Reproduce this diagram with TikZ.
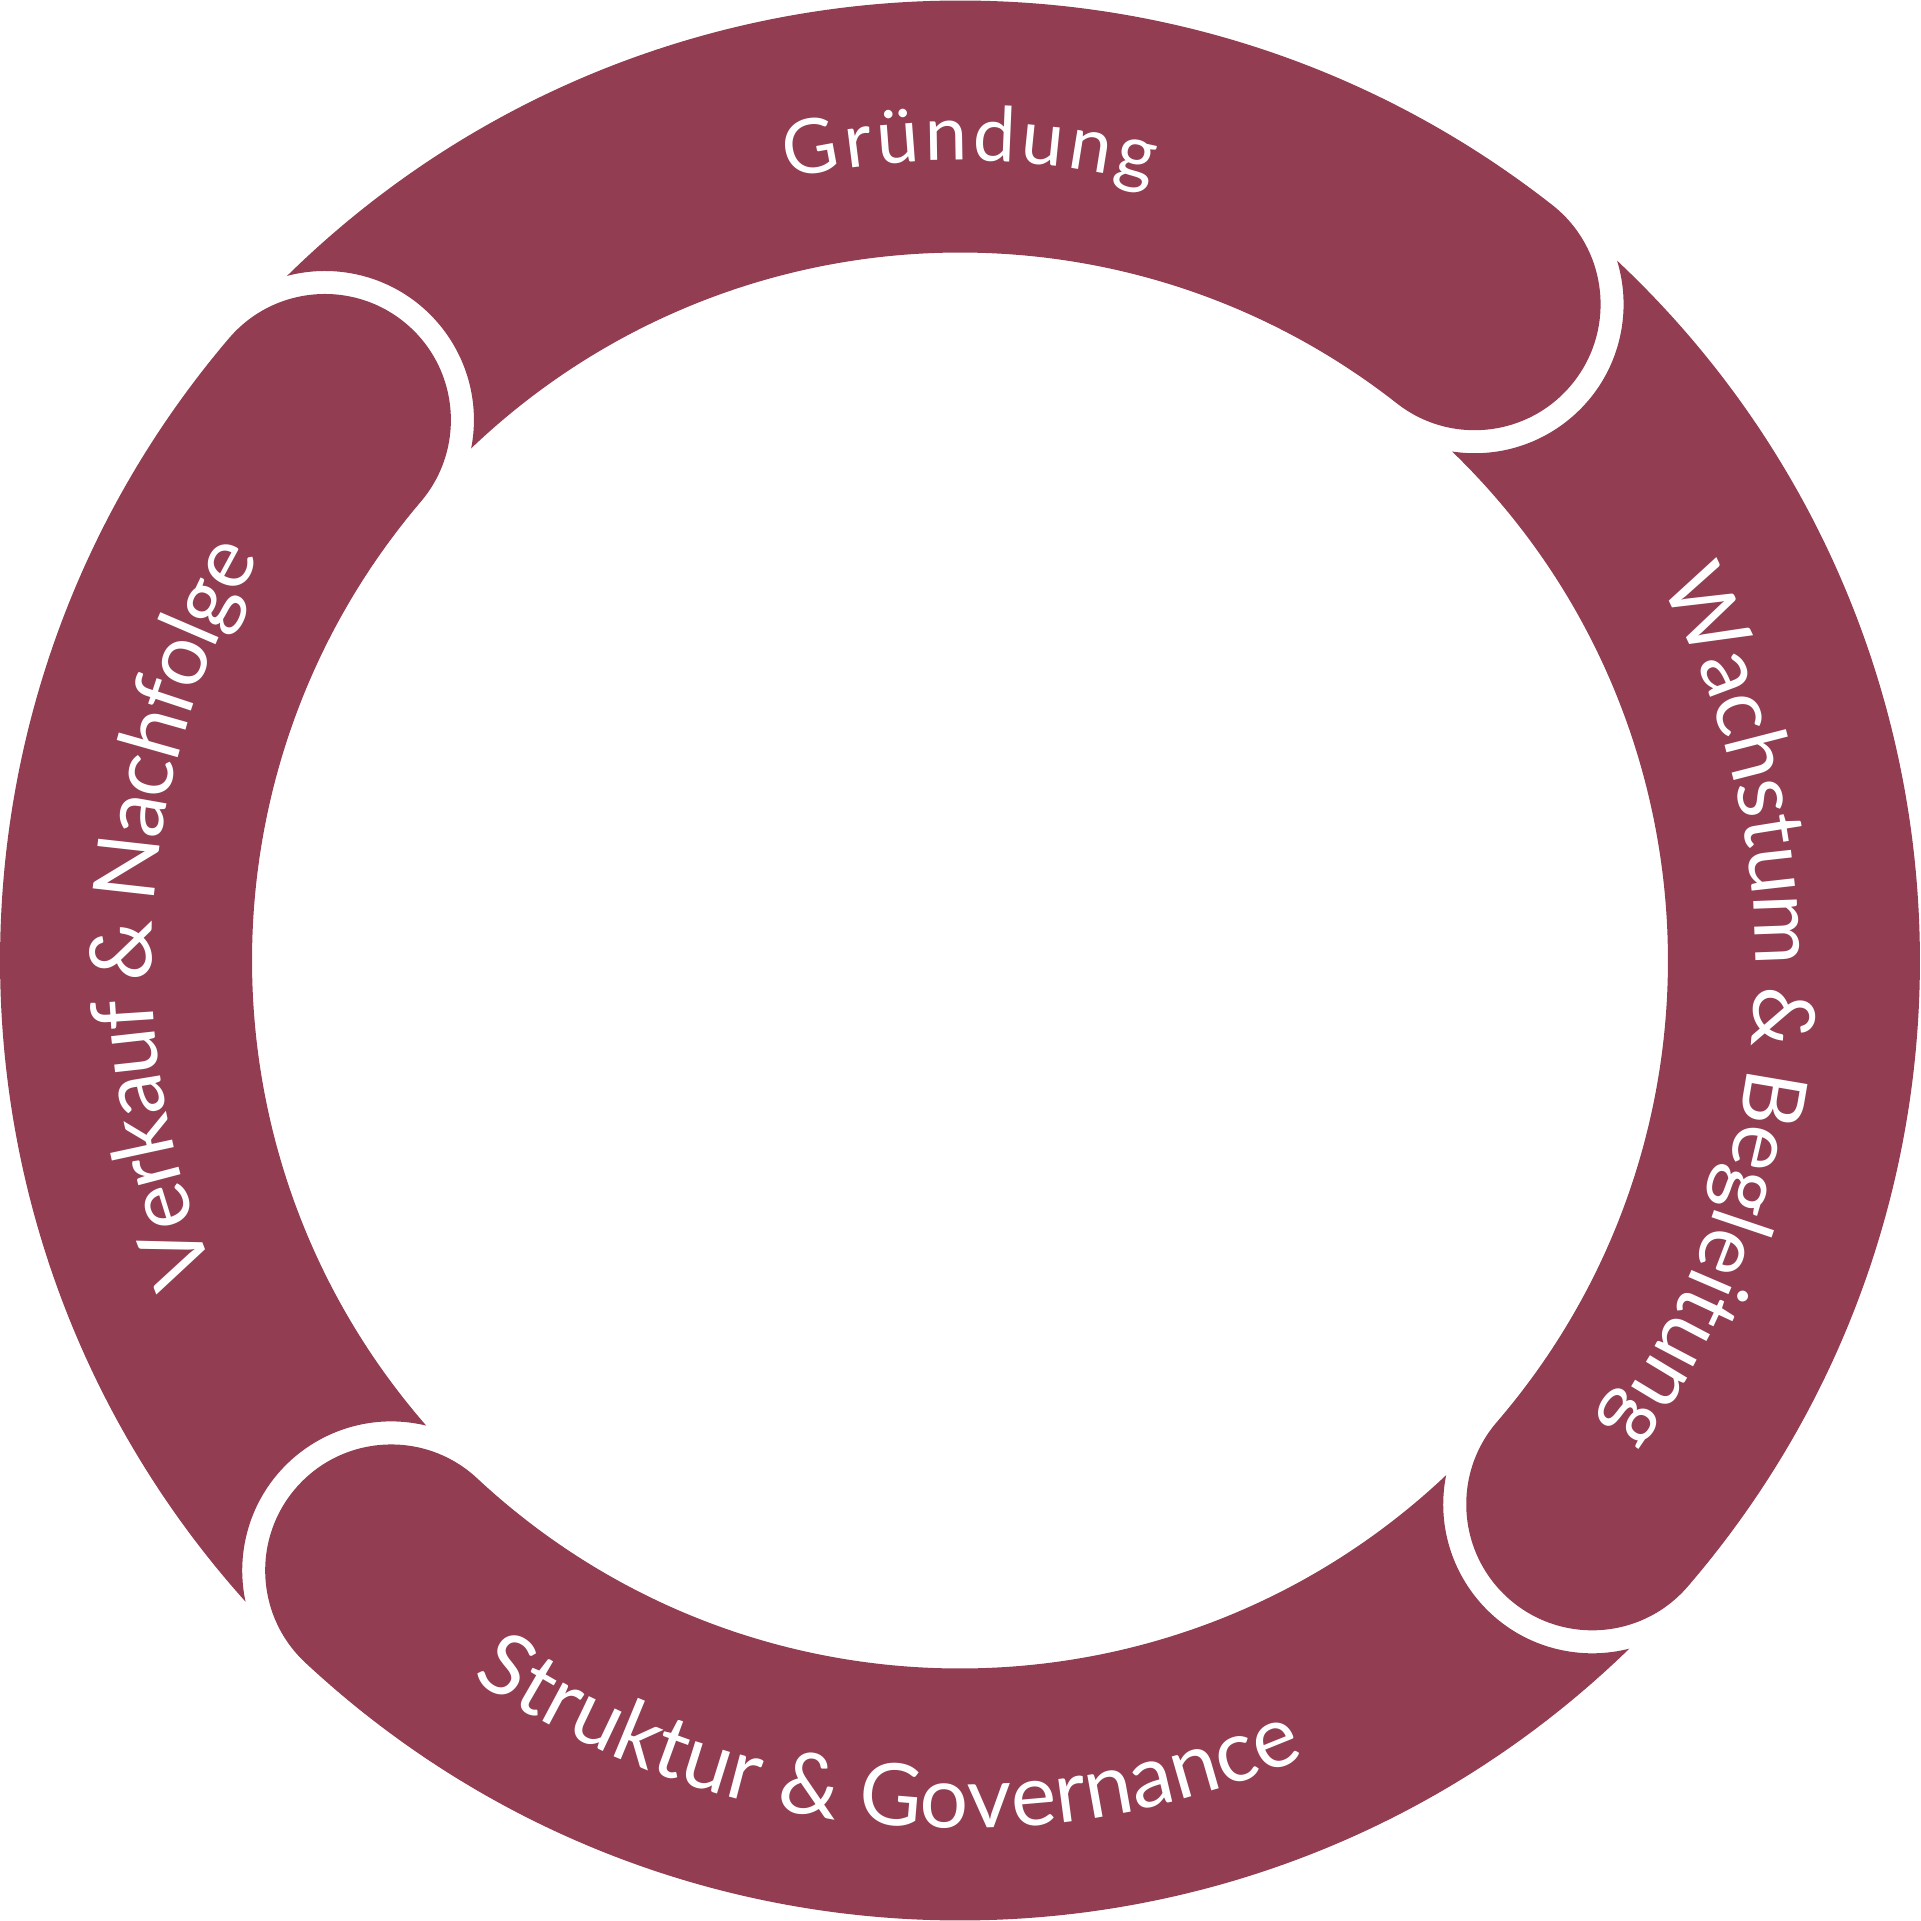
\documentclass[tikz,border=0pt]{standalone}
\usepackage{fontspec}
\newfontfamily\ringfont{Lato}
\definecolor{ring}{HTML}{923D52}
\newdimen\ringT
\newdimen\ringC
\makeatletter
% measure outside the picture: #1 name, #2 font size, #3 extra letter spacing (pt), #4 characters
\newcommand\ringmeasure[4]{%
  \global\ringT=0pt
  \foreach \ch [count=\i] in {#4}{%
    \setbox0=\hbox{\ringfont\fontsize{#2}{#2}\selectfont\ch}%
    \global\ringC=\wd0
    \global\advance\ringT by 0.5\ringC
    \expandafter\xdef\csname ringpos#1-\i\endcsname{\strip@pt\ringT}%
    \global\advance\ringT by 0.5\ringC
    \global\advance\ringT by #3pt
  }%
  \global\advance\ringT by -#3pt
  \expandafter\xdef\csname ringtot#1\endcsname{\strip@pt\ringT}%
}
\makeatother
% #1 name, #2 font size, #3 baseline radius, #4 centre angle, #5 direction (-1 clockwise, 1 anticlockwise), #6 characters
\newcommand\ringlabel[6]{%
  \foreach \ch [count=\i] in {#6} {
    \pgfmathsetmacro\ringang{#4-(#5)*(0.5*\csname ringtot#1\endcsname-\csname ringpos#1-\i\endcsname)/(#3)*57.29578}
    \pgfmathsetmacro\ringrot{\ringang+(#5)*90}
    \node[letter, font=\ringfont\fontsize{#2}{#2}\selectfont, rotate=\ringrot] (#1-\i) at (\ringang:#3) {\ch};
  }
}
\begin{document}
\ringmeasure{gr}{76}{4.5}{G,r,ü,n,d,u,n,g}%
\ringmeasure{wa}{86}{-1.2}{W,a,c,h,s,t,u,m,\ ,\&,\ ,B,e,g,l,e,i,t,u,n,g}%
\ringmeasure{st}{86}{0}{S,t,r,u,k,t,u,r,\ ,\&,\ ,G,o,v,e,r,n,a,n,c,e}%
\ringmeasure{ve}{86}{-2.6}{V,e,r,k,a,u,f,\ ,\&,\ ,N,a,c,h,f,o,l,g,e}%
\begin{tikzpicture}[x=1pt,y=1pt,
  seg/.style={fill=ring, draw=none},
  letter/.style={text=white, inner sep=0pt, outer sep=0pt, anchor=base}]
\useasboundingbox (-960,-960.5) rectangle (960,960.5);
% ring segments: start angle (notch) / end angle (round cap)
\foreach \as/\ae in {139.6/51.9, 51.9/-40.7, -40.7/-133.0, 227.0/139.6} {
  \fill[seg] ({\as-5.094}:960) arc[start angle=\as-5.094, end angle=\ae, radius=960]
     arc[start angle=\ae, end angle=\ae-180, radius=126]
     arc[start angle=\ae, end angle=\as-5.934, radius=708]
     arc[start angle=\as-150.58, end angle=\as-34.90, radius=149] -- cycle;
}
% labels
\ringlabel{gr}{76}{800}{89.3}{-1}{G,r,ü,n,d,u,n,g}
\ringlabel{wa}{86}{795}{-3.8}{-1}{W,a,c,h,s,t,u,m,\ ,\&,\ ,B,e,g,l,e,i,t,u,n,g}
\ringlabel{st}{86}{868}{-95.4}{1}{S,t,r,u,k,t,u,r,\ ,\&,\ ,G,o,v,e,r,n,a,n,c,e}
\ringlabel{ve}{86}{808}{176.4}{-1}{V,e,r,k,a,u,f,\ ,\&,\ ,N,a,c,h,f,o,l,g,e}
\end{tikzpicture}
\end{document}
